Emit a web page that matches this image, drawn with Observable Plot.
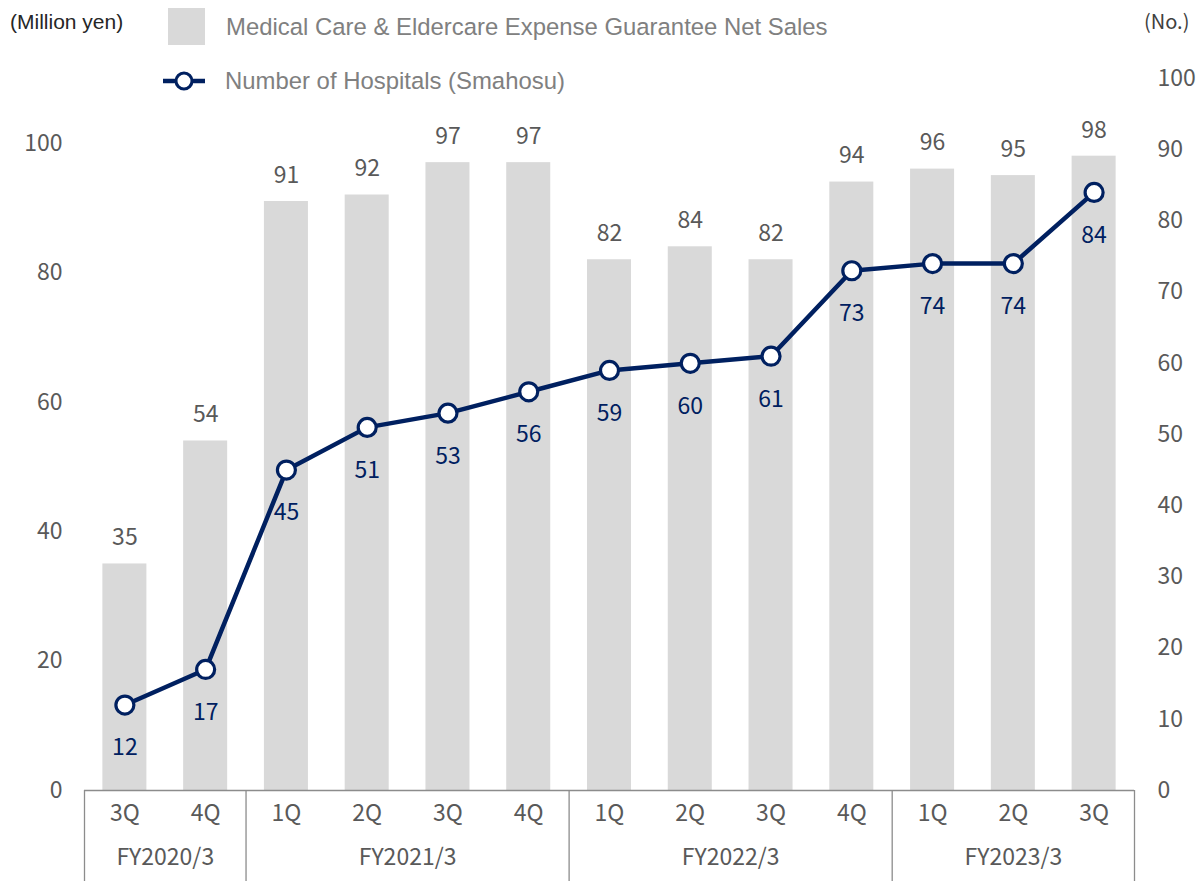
<!DOCTYPE html>
<html>
<head>
<meta charset="utf-8">
<script src="https://cdn.jsdelivr.net/npm/d3@7"></script>
<script src="https://cdn.jsdelivr.net/npm/@observablehq/plot@0.6"></script>
<style>
  html, body { margin: 0; padding: 0; background: #fff; }
  #wrap { position: relative; width: 1196px; height: 881px; overflow: hidden; }
  #chart { position: absolute; left: 0; top: 0; }
  .unit { position: absolute; white-space: nowrap; }
  .legend-row { position: absolute; display: flex; align-items: center; white-space: nowrap;
    font-family: "Liberation Sans", Arial, sans-serif; font-size: 23.9px; color: #808080; }
</style>
</head>
<body>
<div id="wrap">
  <div id="chart"></div>
  <div class="unit" style="left:10px;top:10px;font-family:'Liberation Sans',Arial,sans-serif;font-size:21px;color:#262626;">(Million yen)</div>
  <div class="unit" style="left:1144px;top:6px;font-family:'Noto Sans CJK JP',sans-serif;font-size:20px;color:#404040;">(No.)</div>
  <div class="legend-row" style="left:168px;top:8px;height:37px;">
    <span style="display:inline-block;width:37px;height:37px;background:#d9d9d9;margin-right:21px;"></span>
    <span>Medical Care &amp; Eldercare Expense Guarantee Net Sales</span>
  </div>
  <div class="legend-row" style="left:163px;top:64px;height:34px;">
    <svg width="42" height="34" style="margin-right:20px;">
      <line x1="0" y1="17" x2="42" y2="17" stroke="#002060" stroke-width="4.5"></line>
      <circle cx="21" cy="17" r="8" fill="#fff" stroke="#002060" stroke-width="3"></circle>
    </svg>
    <span>Number of Hospitals (Smahosu)</span>
  </div>
</div>
<script>
// Quarterly figures, FY2020/3 3Q through FY2023/3 3Q
const fiscalYears = ["FY2020/3", "FY2020/3",
  "FY2021/3", "FY2021/3", "FY2021/3", "FY2021/3",
  "FY2022/3", "FY2022/3", "FY2022/3", "FY2022/3",
  "FY2023/3", "FY2023/3", "FY2023/3"];
const quarters = ["3Q", "4Q", "1Q", "2Q", "3Q", "4Q", "1Q", "2Q", "3Q", "4Q", "1Q", "2Q", "3Q"];
// Medical Care & Eldercare Expense Guarantee net sales (million yen)
const netSales = [35, 54, 91, 92, 97, 97, 82, 84, 82, 94, 96, 95, 98];
// Number of hospitals (Smahosu)
const hospitals = [12, 17, 45, 51, 53, 56, 59, 60, 61, 73, 74, 74, 84];
// Axis ticks
const leftTicks = [0, 20, 40, 60, 80, 100];
const rightTicks = [0, 10, 20, 30, 40, 50, 60, 70, 80, 90, 100];

// The right axis (No.) runs 0–100 over the same height as 0–110 million yen
const LEFT_MAX = 110;
const RIGHT_MAX = 100;
const toLeft = v => v * LEFT_MAX / RIGHT_MAX;

const rows = quarters.map((q, i) => ({
  key: fiscalYears[i] + " " + q,
  fy: fiscalYears[i],
  quarter: q,
  sales: netSales[i],
  count: hospitals[i]
}));

const groups = d3.groups(rows, d => d.fy).map(([fy, items]) => ({
  fy,
  first: items[0].key,
  last: items[items.length - 1].key,
  n: items.length
}));

const W = 1196, H = 881;
const M = {top: 78, right: 62, bottom: 91, left: 84};
const step = (W - M.left - M.right) / rows.length;
const frameH = H - M.top - M.bottom;

const navy = "#002060";
const gray = "#595959";
const axisGray = "#8c8c8c";
const numFont = "'Noto Sans CJK JP', 'Noto Sans', sans-serif";
const fs = 23;

const chart = Plot.plot({
  width: W,
  height: H,
  marginTop: M.top,
  marginRight: M.right,
  marginBottom: M.bottom,
  marginLeft: M.left,
  style: {fontFamily: numFont, fontSize: fs + "px", color: gray, background: "transparent"},
  x: {type: "band", domain: rows.map(d => d.key), paddingInner: 0.455, paddingOuter: 0.2275, round: false, axis: null},
  y: {domain: [0, LEFT_MAX], axis: null},
  marks: [
    Plot.barY(rows, {x: "key", y: "sales", fill: "#d9d9d9"}),
    Plot.axisY(leftTicks, {anchor: "left", tickSize: 0, tickPadding: 22, label: null, fill: gray, fontSize: fs}),
    Plot.axisY(rightTicks.map(toLeft), {
      anchor: "right", tickSize: 0, tickPadding: 23, label: null, fill: gray, fontSize: fs,
      tickFormat: d => String(Math.round(d * RIGHT_MAX / LEFT_MAX))
    }),
    Plot.ruleY([0], {stroke: axisGray, strokeWidth: 1.3}),
    // fiscal-year separators below the axis
    Plot.ruleX(groups, {x: "first", dx: -step / 2, stroke: axisGray, strokeWidth: 1.3, insetTop: frameH, insetBottom: -M.bottom}),
    Plot.ruleX(groups.slice(-1), {x: "last", dx: step / 2, stroke: axisGray, strokeWidth: 1.3, insetTop: frameH, insetBottom: -M.bottom}),
    // quarter labels
    Plot.text(rows, {x: "key", text: "quarter", frameAnchor: "bottom", dy: 30, fill: gray, fontSize: fs}),
    // fiscal-year labels, centred under each group
    ...groups.map(g => Plot.text([g], {
      x: "first", text: "fy", frameAnchor: "bottom", dy: 74, dx: (g.n - 1) * step / 2, fill: gray, fontSize: fs
    })),
    // bar value labels
    Plot.text(rows, {x: "key", y: "sales", text: d => String(d.sales), dy: -26, fill: gray, fontSize: fs}),
    // hospitals line
    Plot.line(rows, {x: "key", y: d => toLeft(d.count), stroke: navy, strokeWidth: 4.5}),
    Plot.dot(rows, {x: "key", y: d => toLeft(d.count), r: 9, fill: "#fff", stroke: navy, strokeWidth: 3.2}),
    Plot.text(rows, {x: "key", y: d => toLeft(d.count), text: d => String(d.count), dy: 43, fill: navy, fontSize: fs})
  ]
});

document.getElementById("chart").appendChild(chart);
</script>
</body>
</html>
